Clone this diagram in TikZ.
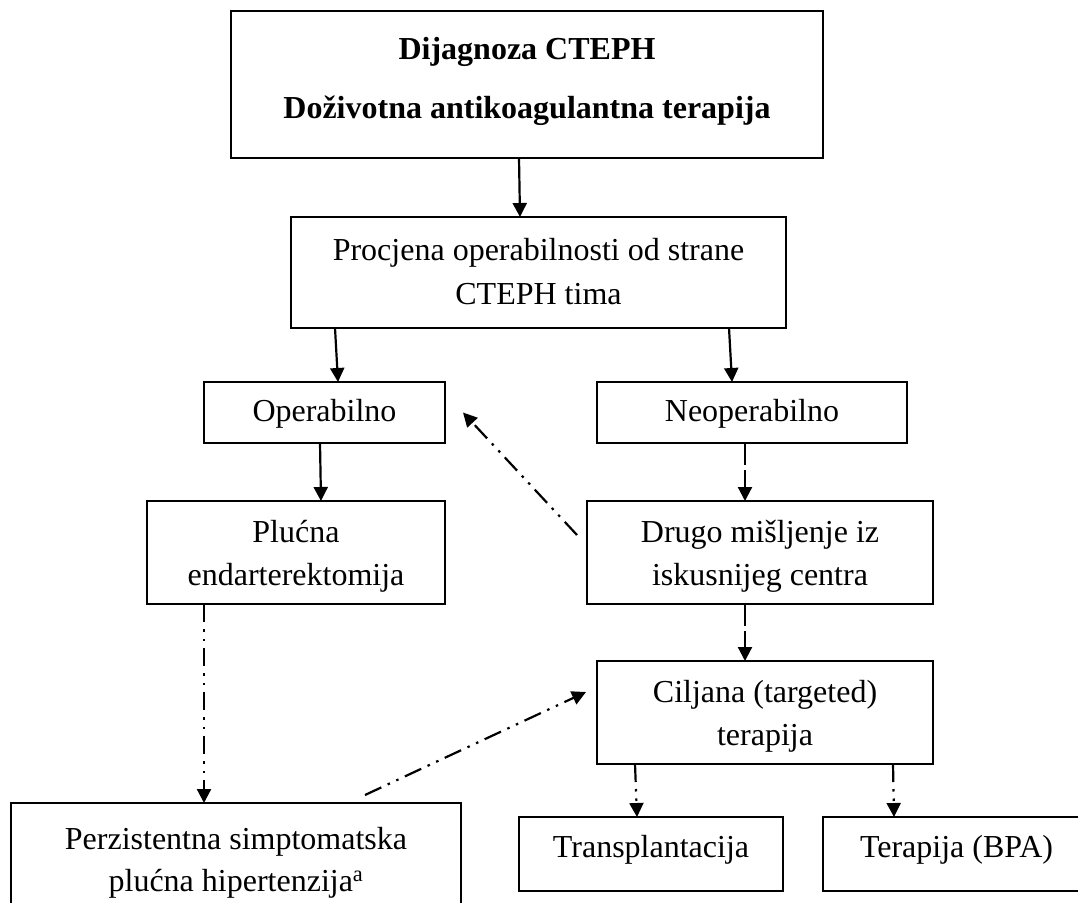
\documentclass[tikz,border=0pt]{standalone}
\usepackage{fontspec}
\setmainfont{Liberation Serif}
\usetikzlibrary{arrows.meta}

\begin{document}
\begin{tikzpicture}[x=1pt,y=-1pt,
  box/.style={draw, line width=2.2pt, rectangle, inner sep=0pt, outer sep=0pt},
  txt/.style={anchor=base, inner sep=0pt, font=\fontsize{32}{38}\selectfont},
  btxt/.style={txt, font=\fontsize{32}{38}\selectfont\bfseries},
  link/.style={line width=2.2pt, -{Triangle[length=14pt,width=14pt]}},
  longdash/.style={link, dash pattern=on 22pt off 5pt},
  dashdotdot/.style={link, dash pattern=on 18pt off 7pt on 2.5pt off 7pt on 2.5pt off 7pt}]
\useasboundingbox (0,0) rectangle (1078,902);
\clip (0,0) rectangle (1078,902);

% boxes
\node[box, minimum width=592pt, minimum height=147pt] (b1) at (527,84.5) {};
\node[box, minimum width=495pt, minimum height=111pt] (b2) at (538.5,272.5) {};
\node[box, minimum width=241pt, minimum height=61pt] (op) at (324.5,412.5) {};
\node[box, minimum width=310pt, minimum height=61pt] (neo) at (752,412.5) {};
\node[box, minimum width=298pt, minimum height=103pt] (pe) at (296,552.5) {};
\node[box, minimum width=346pt, minimum height=103pt] (dr) at (760,552.5) {};
\node[box, minimum width=336pt, minimum height=103pt] (ci) at (765,712.5) {};
\node[box, minimum width=450pt, minimum height=137pt] (pz) at (236,871.5) {};
\node[box, minimum width=264pt, minimum height=74pt] (tr) at (651,854) {};
\node[box, minimum width=267pt, minimum height=74pt] (bpa) at (956.5,854) {};

% texts
\node[btxt] (b1a) at (527,59) {Dijagnoza CTEPH};
\node[btxt] (b1b) at (527,118) {Doživotna antikoagulantna terapija};
\node[txt] (b2a) at (538.5,260) {Procjena operabilnosti od strane};
\node[txt] (b2b) at (538.5,304) {CTEPH tima};
\node[txt] (opa) at (324.5,421) {Operabilno};
\node[txt] (neoa) at (752,421) {Neoperabilno};
\node[txt] (pea) at (296,542) {Plućna};
\node[txt] (peb) at (296,585) {endarterektomija};
\node[txt] (dra) at (760,542) {Drugo mišljenje iz};
\node[txt] (drb) at (760,585) {iskusnijeg centra};
\node[txt] (cia) at (765,702) {Ciljana (targeted)};
\node[txt] (cib) at (765,745) {terapija};
\node[txt] (pza) at (236,849) {Perzistentna simptomatska};
\node[txt] (pzb) at (236,891) {plućna hipertenzija\textsuperscript{a}};
\node[txt] (tra) at (651,857) {Transplantacija};
\node[txt] (bpaa) at (956.5,857) {Terapija (BPA)};

% connectors
\draw[link] ([xshift=-8pt]b1.south) -- ([xshift=-18.5pt]b2.north);
\draw[link] ([xshift=-203.5pt]b2.south) -- ([xshift=13.5pt]op.north);
\draw[link] ([xshift=190.5pt]b2.south) -- ([xshift=-20pt]neo.north);
\draw[link] ([xshift=-4.5pt]op.south) -- ([xshift=25pt]pe.north);
\draw[longdash] ([xshift=-7pt]neo.south) -- ([xshift=-15pt]dr.north);
\draw[longdash] ([xshift=-15pt]dr.south) -- ([xshift=-20pt]ci.north);
\draw[dashdotdot] ([xshift=-10pt,yshift=17.5pt]dr.west) -- ([xshift=18pt]op.east);
\draw[dashdotdot] ([xshift=-92pt]pe.south) -- ([xshift=-32pt]pz.north);
\draw[dashdotdot] ([xshift=129pt,yshift=8pt]pz.north) -- ([xshift=-11pt,yshift=20.5pt]ci.west);
\draw[dashdotdot] ([xshift=-130pt]ci.south) -- ([xshift=-14pt]tr.north);
\draw[dashdotdot] ([xshift=128pt]ci.south) -- ([xshift=-62.5pt]bpa.north);
\end{tikzpicture}
\end{document}
